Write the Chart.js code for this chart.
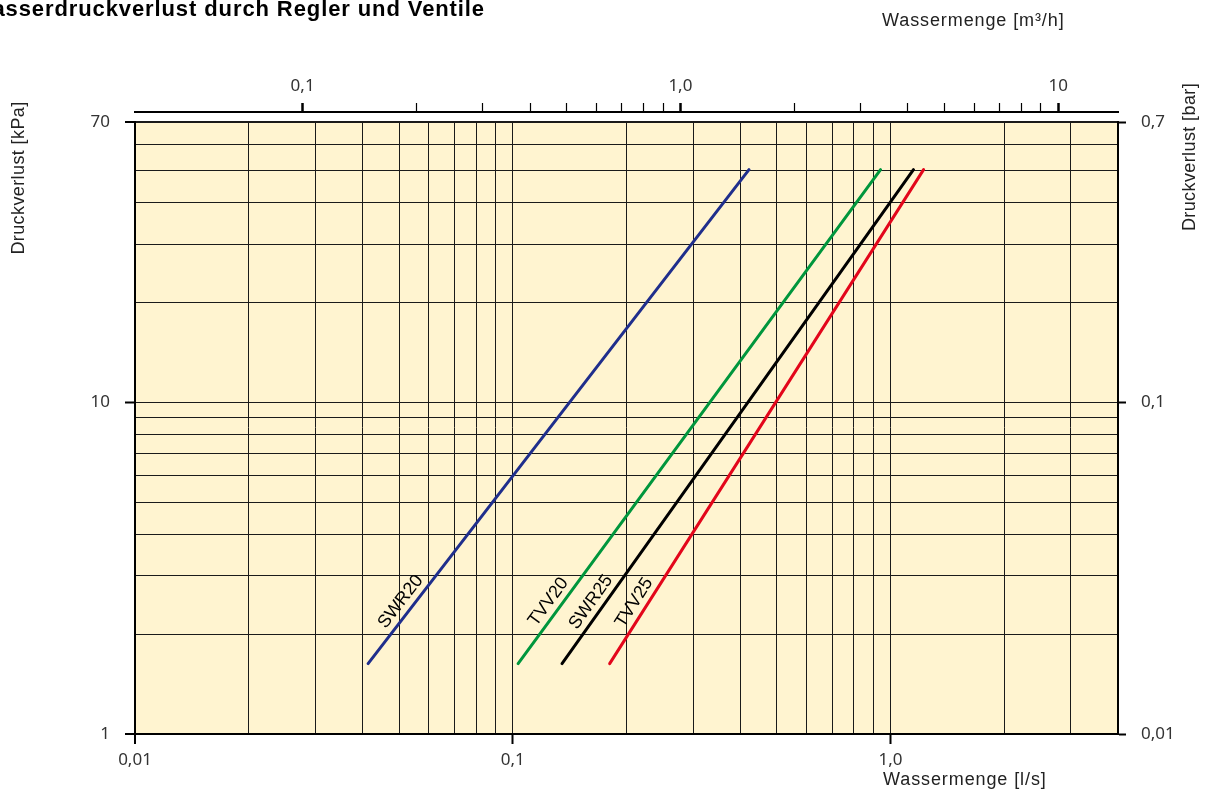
<!DOCTYPE html>
<html>
<head>
<meta charset="utf-8">
<script src="https://cdn.jsdelivr.net/npm/chart.js@4.4.1/dist/chart.umd.min.js"></script>
<style>
  html, body { margin: 0; padding: 0; background: #fff; }
  canvas { display: block; }
</style>
</head>
<body>
<canvas id="chart" width="1209" height="794"></canvas>
<script>
// Wassermenge [l/s] at the lower and upper end of each curve
const swr20Flow = [0.0414, 0.422];
const tvv20Flow = [0.1033, 0.941];
const swr25Flow = [0.135, 1.15];
const tvv25Flow = [0.1805, 1.223];
// Druckverlust [kPa] at those ends
const lossEnds = [1.63, 50.3];

const seriesNames = ['SWR20', 'TVV20', 'SWR25', 'TVV25'];
const seriesFlows = [swr20Flow, tvv20Flow, swr25Flow, tvv25Flow];
const seriesColors = ['#1f2e8c', '#00963c', '#000000', '#e3061b'];
const labelLoss = 2.38; // kPa where the curve names sit

// axes
const flowTicks = [0.01, 0.02, 0.03, 0.04, 0.05, 0.06, 0.07, 0.08, 0.09,
                   0.1, 0.2, 0.3, 0.4, 0.5, 0.6, 0.7, 0.8, 0.9, 1, 2, 3, 4];
const flowMajor = [0.01, 0.1, 1];
const flowMajorLabels = ['0,01', '0,1', '1,0'];

const m3hTicks = [0.1, 0.2, 0.3, 0.4, 0.5, 0.6, 0.7, 0.8, 0.9,
                  1, 2, 3, 4, 5, 6, 7, 8, 9, 10];
const m3hMajor = [0.1, 1, 10];
const m3hMajorLabels = ['0,1', '1,0', '10'];

const kpaTicks = [1, 2, 3, 4, 5, 6, 7, 8, 9, 10, 20, 30, 40, 50, 60, 70];
const kpaMajor = [1, 10, 70];
const kpaMajorLabels = ['1', '10', '70'];

const barTicks = [0.01, 0.1, 0.7];
const barLabels = ['0,01', '0,1', '0,7'];

const tickFont = { family: 'Noto Sans', size: 17 };
const tickColor = '#333';

function labelFor(majors, labels, v) {
  const i = majors.indexOf(v);
  return i >= 0 ? labels[i] : '';
}
function isMajor(majors, ctx) {
  return ctx.tick && majors.indexOf(ctx.tick.value) >= 0;
}

const plotBackground = {
  id: 'plotBackground',
  beforeDraw(chart) {
    const a = chart.chartArea, c = chart.ctx;
    c.save();
    c.fillStyle = '#fff4d0';
    c.fillRect(a.left, a.top, a.right - a.left, a.bottom - a.top);
    c.restore();
  }
};

const texts = {
  id: 'texts',
  afterDraw(chart) {
    const c = chart.ctx;
    c.save();
    c.fillStyle = '#000';
    c.font = "bold 22px 'Liberation Sans'";
    c.letterSpacing = '0.9px';
    c.textAlign = 'right';
    c.textBaseline = 'alphabetic';
    c.fillText('Wasserdruckverlust durch Regler und Ventile', 485, 16);

    c.fillStyle = '#222';
    c.font = "18px 'Liberation Sans'";
    c.letterSpacing = '0.9px';
    c.textAlign = 'left';
    c.textBaseline = 'middle';
    c.fillText('Wassermenge [m³/h]', 882, 21);
    c.fillText('Wassermenge [l/s]', 883, 780);

    c.letterSpacing = '0.4px';
    c.textAlign = 'center';
    c.translate(19, 178);
    c.rotate(-Math.PI / 2);
    c.fillText('Druckverlust [kPa]', 0, 0);
    c.setTransform(1, 0, 0, 1, 0, 0);
    c.translate(1190, 157);
    c.rotate(-Math.PI / 2);
    c.fillText('Druckverlust [bar]', 0, 0);
    c.restore();
  },
  afterDatasetsDraw(chart) {
    const c = chart.ctx, xs = chart.scales.x, ys = chart.scales.y;
    c.save();
    c.fillStyle = '#000';
    c.font = "18px 'Liberation Sans'";
    c.textAlign = 'center';
    c.textBaseline = 'middle';
    seriesFlows.forEach((flow, i) => {
      const x0 = xs.getPixelForValue(flow[0]), y0 = ys.getPixelForValue(lossEnds[0]);
      const x1 = xs.getPixelForValue(flow[1]), y1 = ys.getPixelForValue(lossEnds[1]);
      const t = (Math.log10(labelLoss) - Math.log10(lossEnds[0])) /
                (Math.log10(lossEnds[1]) - Math.log10(lossEnds[0]));
      const lx = Math.pow(10, Math.log10(flow[0]) + t * (Math.log10(flow[1]) - Math.log10(flow[0])));
      const px = xs.getPixelForValue(lx), py = ys.getPixelForValue(labelLoss);
      const ang = Math.atan2(y1 - y0, x1 - x0);
      c.save();
      c.translate(px, py);
      c.rotate(ang);
      c.fillText(seriesNames[i], 0, -12);
      c.restore();
    });
    c.restore();
  }
};

new Chart(document.getElementById('chart'), {
  type: 'scatter',
  data: {
    datasets: seriesNames.map((name, i) => ({
      label: name,
      data: seriesFlows[i].map((f, j) => ({ x: f, y: lossEnds[j] })),
      showLine: true,
      borderColor: seriesColors[i],
      backgroundColor: seriesColors[i],
      borderWidth: 3,
      borderCapStyle: 'round',
      pointRadius: 0,
      xAxisID: 'x',
      yAxisID: 'y'
    }))
  },
  options: {
    responsive: false,
    animation: false,
    layout: { padding: 0, autoPadding: false },
    plugins: {
      legend: { display: false },
      tooltip: { enabled: false },
      title: { display: false }
    },
    scales: {
      x: {
        type: 'logarithmic',
        position: 'bottom',
        min: 0.01,
        max: 4,
        afterBuildTicks: s => { s.ticks = flowTicks.map(v => ({ value: v })); },
        afterFit: s => { s.height = 60; },
        ticks: {
          autoSkip: false, maxRotation: 0, padding: 6,
          color: tickColor, font: tickFont,
          callback: v => labelFor(flowMajor, flowMajorLabels, v)
        },
        grid: {
          color: '#1a1a1a',
          lineWidth: ctx => ctx.tick && (ctx.tick.value === 0.01 || ctx.tick.value === 4) ? 2 : 1,
          tickLength: 10,
          tickWidth: 2,
          tickColor: ctx => isMajor(flowMajor, ctx) ? '#000' : 'rgba(0,0,0,0)'
        },
        border: { display: true, color: '#000', width: 2 }
      },
      gap: {
        type: 'linear',
        axis: 'x',
        position: 'top',
        weight: 0,
        ticks: { display: false },
        grid: { display: false },
        border: { display: false },
        afterFit: s => { s.height = 10; }
      },
      x2: {
        type: 'logarithmic',
        position: 'top',
        weight: 1,
        min: 0.036,
        max: 14.4,
        afterBuildTicks: s => { s.ticks = m3hTicks.map(v => ({ value: v })); },
        afterFit: s => { s.height = 112; },
        ticks: {
          autoSkip: false, maxRotation: 0, padding: 7,
          color: tickColor, font: tickFont,
          callback: v => labelFor(m3hMajor, m3hMajorLabels, v)
        },
        grid: {
          drawOnChartArea: false,
          tickLength: 9,
          tickColor: '#000',
          tickWidth: ctx => isMajor(m3hMajor, ctx) ? 2.5 : 1.2
        },
        border: { display: true, color: '#000', width: 2 }
      },
      y: {
        type: 'logarithmic',
        position: 'left',
        min: 1,
        max: 70,
        afterBuildTicks: s => { s.ticks = kpaTicks.map(v => ({ value: v })); },
        afterFit: s => { s.width = 135; },
        ticks: {
          autoSkip: false, padding: 15,
          color: tickColor, font: tickFont,
          callback: v => labelFor(kpaMajor, kpaMajorLabels, v)
        },
        grid: {
          color: '#1a1a1a',
          lineWidth: ctx => ctx.tick && (ctx.tick.value === 1 || ctx.tick.value === 70) ? 2 : 1,
          tickLength: 10,
          tickWidth: 2,
          tickColor: ctx => isMajor(kpaMajor, ctx) ? '#000' : 'rgba(0,0,0,0)'
        },
        border: { display: true, color: '#000', width: 2 }
      },
      y2: {
        type: 'logarithmic',
        position: 'right',
        min: 0.01,
        max: 0.7,
        afterBuildTicks: s => { s.ticks = barTicks.map(v => ({ value: v })); },
        afterFit: s => { s.width = 91; },
        ticks: {
          autoSkip: false, padding: 15,
          color: tickColor, font: tickFont,
          callback: v => labelFor(barTicks, barLabels, v)
        },
        grid: {
          drawOnChartArea: false,
          tickLength: 8,
          tickWidth: 2,
          tickColor: '#000'
        },
        border: { display: true, color: '#000', width: 2 }
      }
    }
  },
  plugins: [plotBackground, texts]
});
</script>
</body>
</html>
